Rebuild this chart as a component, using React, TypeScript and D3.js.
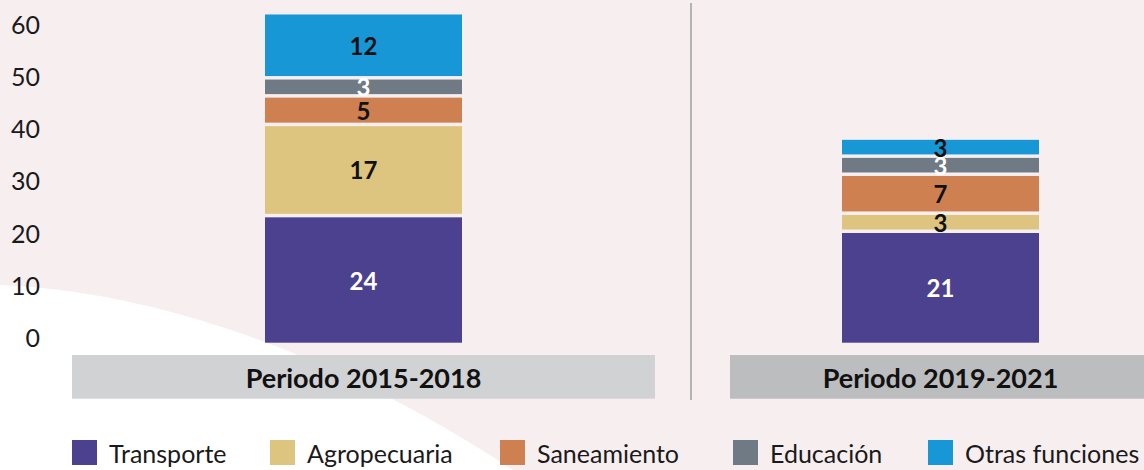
import React from "react";
import * as d3 from "d3";

const periods = ["Periodo 2015-2018", "Periodo 2019-2021"];
const seriesNames = ["Transporte", "Agropecuaria", "Saneamiento", "Educación", "Otras funciones"];
const transporte = [24, 21];
const agropecuaria = [17, 3];
const saneamiento = [5, 7];
const educacion = [3, 3];
const otras = [12, 3];
const yTicks = [0, 10, 20, 30, 40, 50, 60];

const colors = ["#4c418e", "#dec57f", "#cf8050", "#6f7a84", "#1797d6"];
const labelColors = ["#ffffff", "#111111", "#111111", "#ffffff", "#111111"];
const bandFills = ["#d1d2d4", "#bcbdbf"];
const bandExtents = [[72, 655], [730, 1160]];
const legendX = [72, 270, 500, 733, 928];

const W = 1144;
const H = 470;
const FONT = "Lato, 'Noto Sans', sans-serif";

export default function App() {
  const values = [transporte, agropecuaria, saneamiento, educacion, otras];
  const y = d3.scaleLinear().domain([0, 60]).range([342.7, 29.3]);
  const x = d3.scalePoint<string>().domain(periods).range([363.5, 940.5]);
  const barW = 197;
  const stackOff = 2.4;
  const extraGap = 1.1;

  const table = periods.map((p, i) => {
    const row: any = { period: p };
    seriesNames.forEach((s, k) => (row[s] = values[k][i]));
    return row;
  });
  const stack = d3.stack<any>().keys(seriesNames)(table);

  const bgPath = "M0,285 C120,290 300,330 513,470 L0,470 Z";

  return (
    <svg width={W} height={H} style={{ position: "absolute", left: 0, top: 0, display: "block" }} fontFamily={FONT}>
      <rect x={0} y={0} width={W} height={H} fill="#f7eef0" />
      <path d={bgPath} fill="#ffffff" />
      <line x1={691} x2={691} y1={3} y2={400} stroke="#b4b4b6" strokeWidth={2} />

      {yTicks.map((t) => (
        <text key={t} x={40} y={y(t) - 5.7} textAnchor="end" dominantBaseline="central" fontSize={25} fill="#1a1a1a">
          {t}
        </text>
      ))}

      {stack.map((layer, k) =>
        layer.map((d, i) => {
          const cx = x(periods[i]) as number;
          const top = y(d[1]) - k * stackOff;
          const bottom = y(d[0]) - k * stackOff - (k > 0 ? extraGap : 0);
          return (
            <g key={`${k}-${i}`}>
              <rect x={cx - barW / 2} y={top} width={barW} height={bottom - top} fill={colors[k]} />
              <text
                x={cx}
                y={(top + bottom) / 2}
                textAnchor="middle"
                dominantBaseline="central"
                fontSize={24}
                fontWeight={700}
                fill={labelColors[k]}
              >
                {values[k][i]}
              </text>
            </g>
          );
        })
      )}

      {periods.map((p, i) => (
        <g key={p}>
          <rect x={bandExtents[i][0]} y={355} width={bandExtents[i][1] - bandExtents[i][0]} height={43.7} fill={bandFills[i]} />
          <text x={x(p) as number} y={377.5} textAnchor="middle" dominantBaseline="central" fontSize={27} fontWeight={700} fill="#111">
            {p}
          </text>
        </g>
      ))}

      {seriesNames.map((s, k) => (
        <g key={s} transform={`translate(${legendX[k]},440)`}>
          <rect x={0} y={0} width={25} height={25} fill={colors[k]} />
          <text x={37} y={13} dominantBaseline="central" fontSize={25} fill="#1a1a1a">
            {s}
          </text>
        </g>
      ))}
    </svg>
  );
}
